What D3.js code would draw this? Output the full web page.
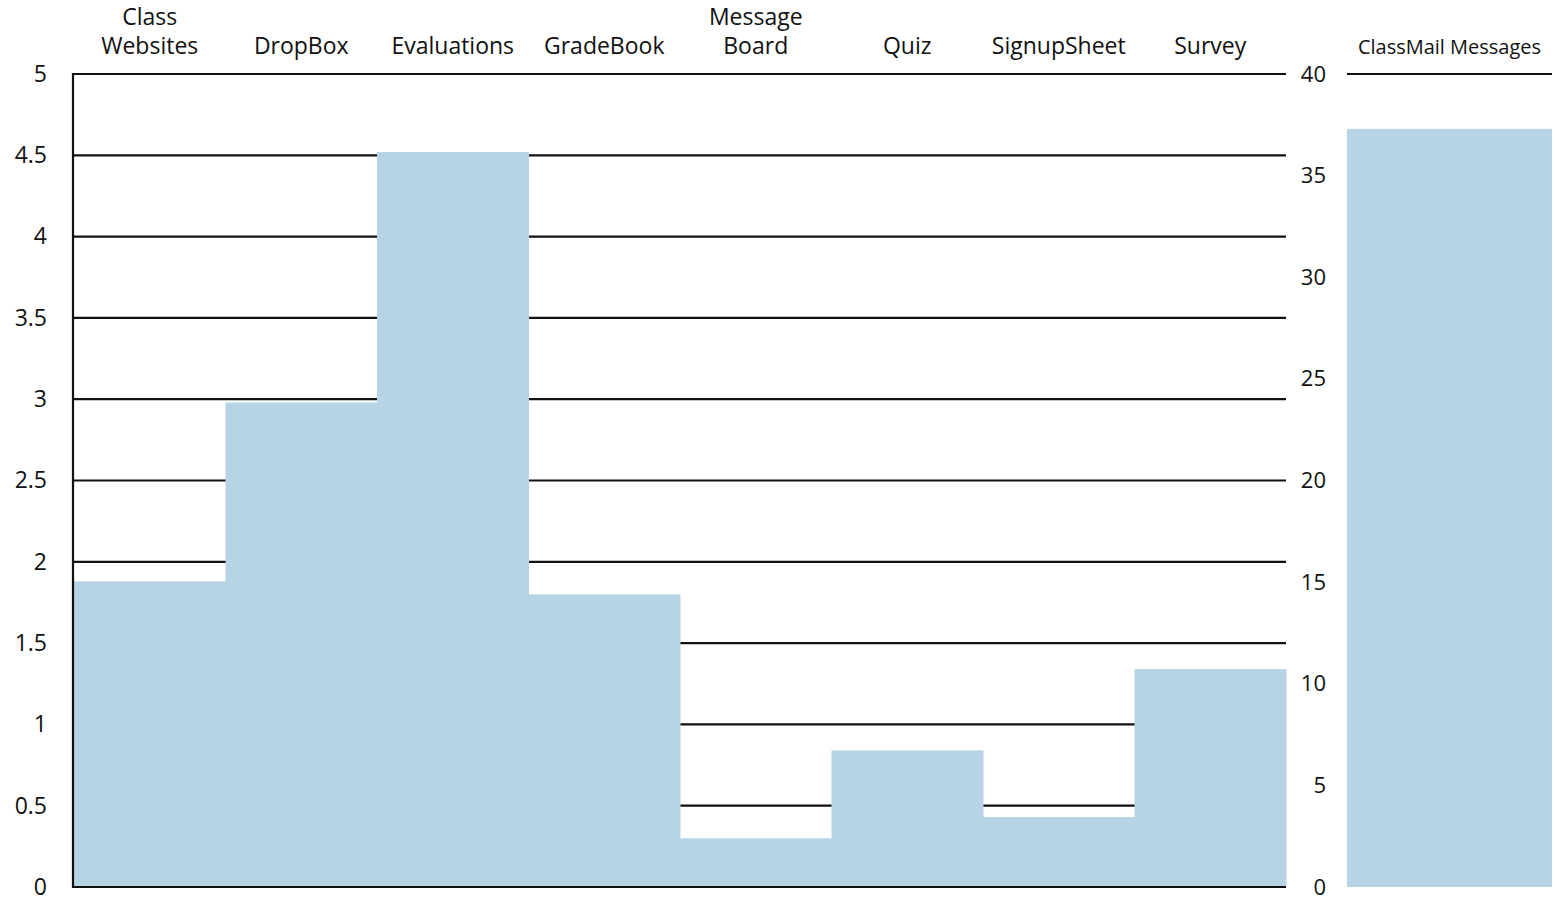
<!DOCTYPE html>
<html>
<head>
<meta charset="utf-8">
<script src="https://cdn.jsdelivr.net/npm/d3@7"></script>
<style>
  body { margin: 0; background: #fff; }
  text { font-family: "Open Sans", sans-serif; fill: #111; }
</style>
</head>
<body>
<div id="chart"></div>
<script>
// tool usage, left panel (scale 0-5)
var tools = ["Class Websites", "DropBox", "Evaluations", "GradeBook", "Message Board", "Quiz", "SignupSheet", "Survey"];
var toolValues = [1.88, 2.98, 4.52, 1.80, 0.30, 0.84, 0.43, 1.34];
var leftTicks = [0, 0.5, 1, 1.5, 2, 2.5, 3, 3.5, 4, 4.5, 5];

// right panel (scale 0-40)
var mailLabel = ["ClassMail Messages"];
var mailValues = [37.3];
var rightTicks = [0, 5, 10, 15, 20, 25, 30, 35, 40];

var svgWidth = 1555, svgHeight = 904;
var barColor = "#b7d4e6";

var svg = d3.select("#chart").append("svg")
  .attr("width", svgWidth)
  .attr("height", svgHeight);

// note: "top" is taken by window.top, so use other names
var plotTop = 74, plotBottom = 887;

var xScale = d3.scaleBand().domain(tools).range([74, 1286]).padding(0);
var yScale = d3.scaleLinear().domain([0, 5]).range([plotBottom, plotTop]);

var x2Scale = d3.scaleBand().domain(mailLabel).range([1347, 1552]).padding(0);
var y2Scale = d3.scaleLinear().domain([0, 40]).range([plotBottom, plotTop]);

// gridlines (behind bars)
svg.append("g")
  .selectAll("line")
  .data(leftTicks.filter(d => d > 0))
  .enter()
  .append("line")
  .attr("x1", 74)
  .attr("x2", 1286)
  .attr("y1", d => yScale(d))
  .attr("y2", d => yScale(d))
  .attr("stroke", "#111")
  .attr("stroke-width", 2.2);

// bars
svg.append("g")
  .selectAll("rect")
  .data(tools)
  .enter()
  .append("rect")
  .attr("x", d => xScale(d))
  .attr("width", xScale.bandwidth() + 0.5)
  .attr("y", (d, i) => yScale(toolValues[i]))
  .attr("height", (d, i) => plotBottom - yScale(toolValues[i]))
  .attr("fill", barColor);

// left axis line + baseline
svg.append("line")
  .attr("x1", 73).attr("x2", 73)
  .attr("y1", plotTop - 1).attr("y2", plotBottom + 1)
  .attr("stroke", "#111").attr("stroke-width", 2.2);
svg.append("line")
  .attr("x1", 72).attr("x2", 1286)
  .attr("y1", plotBottom).attr("y2", plotBottom)
  .attr("stroke", "#111").attr("stroke-width", 2.2);

// left tick labels
var yAxis = d3.axisLeft(yScale).tickValues(leftTicks).tickSize(0).tickPadding(26)
  .tickFormat(d => d);
var yAxisG = svg.append("g")
  .attr("transform", "translate(73,0)")
  .call(yAxis);
yAxisG.select(".domain").remove();
yAxisG.selectAll("text")
  .attr("font-size", 23)
  .attr("font-family", "Open Sans, sans-serif")
  .attr("fill", "#111");

// category labels on top
var catLabels = svg.append("g")
  .selectAll("text")
  .data(tools)
  .enter()
  .append("text")
  .attr("x", d => xScale(d) + xScale.bandwidth() / 2)
  .attr("y", 54)
  .attr("text-anchor", "middle")
  .attr("font-size", 23);

catLabels.each(function(d) {
  var words = d.split(" ");
  var el = d3.select(this);
  if (words.length > 1) {
    el.append("tspan").attr("x", el.attr("x")).attr("dy", -29).text(words[0]);
    el.append("tspan").attr("x", el.attr("x")).attr("dy", 29).text(words.slice(1).join(" "));
  } else {
    el.text(d);
  }
});

// right panel bar
svg.append("g")
  .selectAll("rect")
  .data(mailLabel)
  .enter()
  .append("rect")
  .attr("x", d => x2Scale(d))
  .attr("width", x2Scale.bandwidth())
  .attr("y", (d, i) => y2Scale(mailValues[i]))
  .attr("height", (d, i) => plotBottom - y2Scale(mailValues[i]))
  .attr("fill", barColor);

// right panel top line
svg.append("line")
  .attr("x1", 1347).attr("x2", 1552)
  .attr("y1", plotTop).attr("y2", plotTop)
  .attr("stroke", "#111").attr("stroke-width", 2.2);

// right tick labels, right-aligned
var y2Axis = d3.axisRight(y2Scale).tickValues(rightTicks).tickSize(0).tickPadding(40);
var y2AxisG = svg.append("g")
  .attr("transform", "translate(1286,0)")
  .call(y2Axis);
y2AxisG.select(".domain").remove();
y2AxisG.selectAll("text")
  .attr("text-anchor", "end")
  .attr("font-size", 22)
  .attr("font-family", "Open Sans, sans-serif")
  .attr("fill", "#111");

// right panel title
svg.append("text")
  .attr("x", x2Scale(mailLabel[0]) + x2Scale.bandwidth() / 2)
  .attr("y", 54)
  .attr("text-anchor", "middle")
  .attr("font-size", 20)
  .text(mailLabel[0]);
</script>
</body>
</html>
